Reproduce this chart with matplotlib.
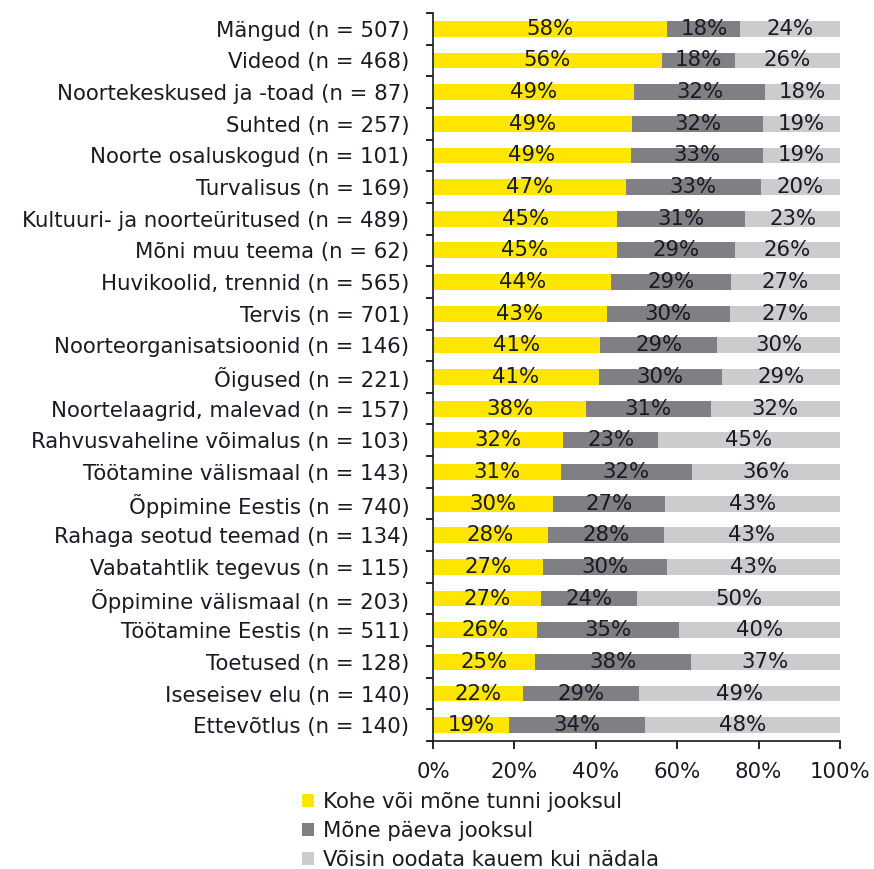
import matplotlib
matplotlib.use("Agg")
import matplotlib.pyplot as plt
from matplotlib.patches import Patch
import numpy as np

plt.rcParams["font.family"] = ["DejaVu Sans"]

CATEGORIES = [
    "Mängud (n = 507)", "Videod (n = 468)", "Noortekeskused ja -toad (n = 87)",
    "Suhted (n = 257)", "Noorte osaluskogud (n = 101)", "Turvalisus (n = 169)",
    "Kultuuri- ja noorteüritused (n = 489)", "Mõni muu teema (n = 62)",
    "Huvikoolid, trennid (n = 565)", "Tervis (n = 701)",
    "Noorteorganisatsioonid (n = 146)", "Õigused (n = 221)",
    "Noortelaagrid, malevad (n = 157)", "Rahvusvaheline võimalus (n = 103)",
    "Töötamine välismaal (n = 143)", "Õppimine Eestis (n = 740)",
    "Rahaga seotud teemad (n = 134)", "Vabatahtlik tegevus (n = 115)",
    "Õppimine välismaal (n = 203)", "Töötamine Eestis (n = 511)",
    "Toetused (n = 128)", "Iseseisev elu (n = 140)", "Ettevõtlus (n = 140)",
]
KOHE = [57.6, 56.2, 49.4, 49.0, 48.6, 47.3, 45.3, 45.2, 43.8, 42.7, 41.1, 40.8,
        37.6, 32.0, 31.4, 29.6, 28.3, 27.0, 26.6, 25.6, 25.0, 22.1, 18.6]
PAEVA = [17.9, 17.9, 32.2, 32.0, 32.6, 33.2, 31.4, 28.9, 29.3, 30.2, 28.8, 30.1,
         30.6, 23.3, 32.2, 27.3, 28.4, 30.4, 23.6, 34.8, 38.3, 28.6, 33.6]
KAUEM = [24.5, 25.9, 18.4, 19.0, 18.8, 19.6, 23.3, 25.9, 26.9, 27.1, 30.1, 29.1,
         31.8, 44.7, 36.4, 43.1, 43.3, 42.6, 49.8, 39.6, 36.7, 49.3, 47.8]
SERIES = ["Kohe või mõne tunni jooksul", "Mõne päeva jooksul",
          "Võisin oodata kauem kui nädala"]
COLORS = ["#FFE600", "#807F83", "#CCCCCE"]
TEXT = "#1A1A24"
FS = 15.3

fig = plt.figure(figsize=(8.74, 8.69), dpi=100)
ax = fig.add_axes([433 / 874, 1 - 741 / 869, 407 / 874, 728 / 869])

y = np.arange(len(CATEGORIES))
left = np.zeros(len(CATEGORIES))
for vals, color in zip([KOHE, PAEVA, KAUEM], COLORS):
    vals = np.array(vals)
    ax.barh(y, vals, left=left, height=0.5, color=color, edgecolor="none")
    for yi, l, v in zip(y, left, vals):
        ax.text(l + v / 2, yi, f"{v:.0f}%", ha="center", va="center",
                fontsize=FS, color=TEXT)
    left = left + vals

ax.set_ylim(len(CATEGORIES) - 0.5, -0.5)
ax.set_xlim(0, 100)
ax.set_yticks(y)
ax.set_yticklabels(CATEGORIES, fontsize=FS, color=TEXT)
ax.set_yticks(np.arange(-0.5, len(CATEGORIES)), minor=True)
ax.tick_params(axis="y", which="major", length=0, pad=17)
ax.tick_params(axis="y", which="minor", length=5, width=1.2, direction="out")
ax.set_xticks([0, 20, 40, 60, 80, 100])
ax.set_xticklabels([f"{t}%" for t in [0, 20, 40, 60, 80, 100]], fontsize=FS, color=TEXT)
ax.tick_params(axis="x", length=6, width=1.2, direction="out", pad=9)
for s in ("top", "right"):
    ax.spines[s].set_visible(False)
for s in ("left", "bottom"):
    ax.spines[s].set_linewidth(1.2)
    ax.spines[s].set_color(TEXT)

handles = [Patch(facecolor=c, edgecolor="none") for c in COLORS]
fig.legend(handles, SERIES, loc="upper left", bbox_to_anchor=(302 / 874, 1 - 792 / 869),
           frameon=False, fontsize=FS, handlelength=0.55, handleheight=0.55,
           handletextpad=0.45, labelspacing=0.42, borderaxespad=0, borderpad=0,
           labelcolor=TEXT)

fig.savefig("out.png", dpi=100)
